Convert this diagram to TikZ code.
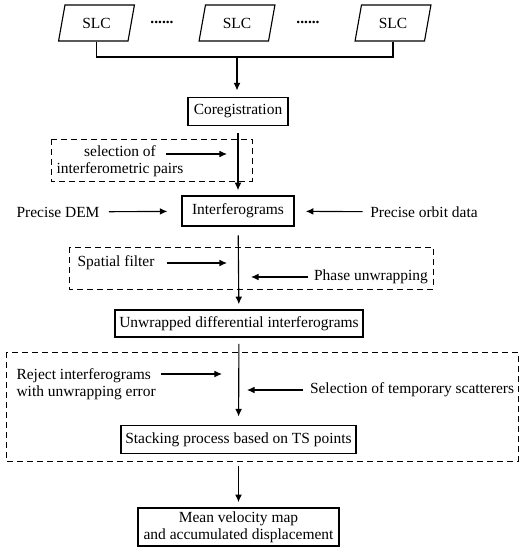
\documentclass[tikz,border=0pt]{standalone}
\usepackage{fontspec}
\setmainfont{Liberation Serif}
\usetikzlibrary{arrows.meta, positioning, shapes.geometric}

\begin{document}
\begin{tikzpicture}[
      x=0.025cm, y=-0.025cm,
      font=\fontsize{11pt}{12.4pt}\selectfont,
      line width=0.8pt,
      >={Latex[length=0.19cm, width=0.17cm]},
      proc/.style={draw, inner xsep=0.1cm, inner ysep=0pt, minimum height=0.72cm,
        align=center},
      slc/.style={draw, trapezium, trapezium left angle=74.5,
        trapezium right angle=105.5, trapezium stretches=true,
        minimum width=1.9cm, minimum height=0.9cm, inner sep=0pt},
      lbl/.style={inner sep=0pt, align=center},
      flow/.style={->, shorten <=0.16cm, shorten >=0.13cm},
      dashbox/.style={draw, line width=0.7pt, dash pattern=on 0.14cm off 0.11cm}
    ]
      \useasboundingbox (0,0) rectangle (527,550);

      % input images
      \node[slc] (slcA) at (96.5,23) {SLC};
      \node[slc] (slcB) at (237,23) {SLC};
      \node[slc] (slcC) at (393,23) {SLC};
      \node[lbl] (dotsA) at (162,22) {\textbf{......}};
      \node[lbl] (dotsB) at (308,22) {\textbf{......}};
      \coordinate (bus) at (237,57);
      \draw (slcA.south) |- (slcC.south |- bus) -- (slcC.south);

      % main chain
      \node[proc, minimum width=2.5cm] (coreg) at (238,111.5) {Coregistration};
      \node[proc, minimum width=2.8cm, minimum height=0.75cm] (interf) at (238,211)
        {Interferograms};
      \node[proc, minimum width=6.2cm, minimum height=0.675cm] (unwrap) at (239,323.5)
        {Unwrapped differential interferograms};
      \node[proc, minimum width=5.875cm] (stack) at (238.5,439.5)
        {Stacking process based on TS points};
      \node[proc, minimum width=5.025cm, minimum height=0.95cm] (mean) at (238.5,527)
        {Mean velocity map\\and accumulated displacement};

      \draw[->, shorten >=0.15cm] (bus) -- (bus |- coreg.north);
      \draw[flow] (coreg) -- (interf);
      \draw[flow, shorten <=0.22cm] (interf) -- (unwrap);
      \draw[flow, shorten >=0.2cm] (unwrap) -- (stack);
      \draw[flow, shorten <=0.3cm] (stack) -- (mean);

      % dashed groups
      \draw[dashbox] (51,139) rectangle (252,181);
      \draw[dashbox] (69,247) rectangle (433,289);
      \draw[dashbox] (6,352) rectangle (518,461);

      % side inputs
      \node[lbl] (pairs) at (120,161) {selection of\\interferometric pairs};
      \coordinate (pairsTail) at (166,154);
      \coordinate (pairsTip) at (227,154);
      \draw[->] (pairsTail) -- (pairsTip);

      \node[lbl] (dem) at (58,212) {Precise DEM};
      \node[lbl] (orbit) at (424,212) {Precise orbit data};
      \draw[->, shorten <=0.22cm, shorten >=0.35cm] (dem) -- (interf);
      \draw[->, shorten <=0.18cm, shorten >=0.28cm] (orbit) -- (interf);

      \node[lbl] (filter) at (116,263) {Spatial filter};
      \coordinate (filterTip) at (227,263);
      \draw[->, shorten <=0.3cm] (filter) -- (filterTip);
      \node[lbl] (phase) at (371,277) {Phase unwrapping};
      \coordinate (phaseTip) at (251,277);
      \draw[->, shorten <=0.13cm] (phase) -- (phaseTip);

      \node[lbl, align=left, anchor=west] (reject) at (16,384.5)
        {Reject interferograms\\with unwrapping error};
      \coordinate (rejectTail) at (161,374);
      \coordinate (rejectTip) at (222,374);
      \draw[->] (rejectTail) -- (rejectTip);
      \node[lbl] (scatter) at (412,390) {Selection of temporary scatterers};
      \coordinate (scatterTip) at (247,390);
      \draw[->, shorten <=0.15cm] (scatter) -- (scatterTip);
    \end{tikzpicture}
\end{document}
